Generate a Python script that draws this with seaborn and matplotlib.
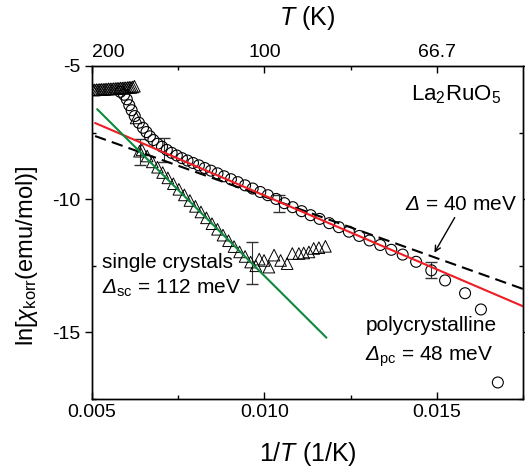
import numpy as np
import pandas as pd
import matplotlib
matplotlib.use("Agg")
import matplotlib.pyplot as plt
import seaborn as sns

sns.set_style("ticks")
plt.rcParams['font.family'] = ['Liberation Sans', 'DejaVu Sans']
plt.rcParams['mathtext.fontset'] = 'custom'
plt.rcParams['mathtext.rm'] = 'Liberation Sans'
plt.rcParams['mathtext.it'] = 'Liberation Sans:italic'
plt.rcParams['mathtext.sf'] = 'Liberation Sans:italic'  # used for the italic Delta
plt.rcParams['axes.unicode_minus'] = False
plt.rcParams['text.color'] = 'black'
plt.rcParams['axes.labelcolor'] = 'black'
plt.rcParams['xtick.color'] = 'black'
plt.rcParams['ytick.color'] = 'black'

# polycrystalline sample (circles)
poly_x = [0.00582, 0.00593, 0.00601, 0.00608, 0.00615, 0.00624, 0.00636, 0.00648,
          0.00658, 0.00668, 0.00678, 0.00690, 0.00703, 0.00717, 0.00731, 0.00746,
          0.00761, 0.00777, 0.00793, 0.00810, 0.00827, 0.00845, 0.00864, 0.00883,
          0.00903, 0.00923, 0.00944, 0.00966, 0.00988, 0.01010, 0.01034, 0.01058,
          0.01082, 0.01108, 0.01134, 0.01160, 0.01188, 0.01216, 0.01245, 0.01275,
          0.01305, 0.01336, 0.01368, 0.01401, 0.01440, 0.01484, 0.01524, 0.01582,
          0.01628, 0.01677]
poly_y = [-5.97, -6.08, -6.25, -6.47, -6.66, -6.88, -7.13, -7.32,
          -7.48, -7.64, -7.78, -7.92, -8.03, -8.15, -8.26, -8.36,
          -8.46, -8.55, -8.64, -8.73, -8.83, -8.93, -9.03, -9.14,
          -9.25, -9.36, -9.48, -9.60, -9.73, -9.85, -9.99, -10.15,
          -10.30, -10.45, -10.60, -10.74, -10.90, -11.05, -11.22, -11.38,
          -11.55, -11.72, -11.90, -12.08, -12.35, -12.67, -13.05, -13.53,
          -14.14, -16.88]

# single crystals (triangles)
sc_x = [0.00503, 0.00508, 0.00513, 0.00518, 0.00523, 0.00528, 0.00533, 0.00538,
        0.00543, 0.00548, 0.00553, 0.00558, 0.00563, 0.00568, 0.00573, 0.00578,
        0.00583, 0.00588, 0.00593, 0.00598, 0.00603, 0.00608, 0.00613, 0.00618,
        0.00623, 0.00628, 0.00638,
        0.00645, 0.00660, 0.00675, 0.00690, 0.00705, 0.00720, 0.00736, 0.00752,
        0.00768, 0.00784, 0.00800, 0.00816, 0.00832, 0.00848, 0.00864, 0.00880,
        0.00896, 0.00912, 0.00928, 0.00944, 0.00960, 0.00975, 0.00985, 0.00999,
        0.01013, 0.01028, 0.01047, 0.01066, 0.01081, 0.01100, 0.01114, 0.01129,
        0.01143, 0.01158, 0.01177]
sc_y = [-5.90, -5.90, -5.89, -5.89, -5.88, -5.88, -5.88, -5.87,
        -5.87, -5.86, -5.86, -5.86, -5.85, -5.85, -5.84, -5.84,
        -5.83, -5.83, -5.82, -5.82, -5.81, -5.80, -5.80, -5.79,
        -5.76, -6.95, -8.20,
        -8.15, -8.38, -8.60, -8.80, -9.00, -9.20, -9.42, -9.63,
        -9.84, -10.05, -10.27, -10.48, -10.70, -10.92, -11.13, -11.35,
        -11.56, -11.78, -11.98, -12.15, -12.36, -12.50, -12.25, -12.30,
        -12.55, -12.10, -12.30, -12.42, -12.04, -12.04, -12.02, -11.98,
        -11.85, -11.82, -11.77]

# error bars
poly_err_x = [0.00710, 0.01042, 0.01484]
poly_err_y = [-8.15, -10.15, -12.67]
poly_err = [0.45, 0.32, 0.30]
sc_err_x = [0.00638, 0.00965]
sc_err_y = [-8.23, -12.40]
sc_err = [0.49, 0.80]

# activation fits (end points)
pc_fit_x = [0.00509, 0.0175]
pc_fit_y = [-7.14, -14.02]
sc_fit_x = [0.00515, 0.0118]
sc_fit_y = [-6.62, -15.20]
d40_fit_x = [0.00509, 0.0175]
d40_fit_y = [-7.63, -13.37]

top_ticks = [0.005, 0.010, 0.015]
top_labels = ['200', '100', '66.7']

poly = pd.DataFrame({'x': poly_x, 'y': poly_y})
sc = pd.DataFrame({'x': sc_x, 'y': sc_y})

fig = plt.figure(figsize=(5.25, 4.7), dpi=100)
ax = fig.add_axes([0.1752, 0.1511, 0.8210, 0.7085])

sns.scatterplot(data=sc, x='x', y='y', marker='^', s=70, facecolor='none',
                edgecolor='black', linewidth=0.7, ax=ax, zorder=3)
sns.scatterplot(data=poly, x='x', y='y', marker='o', s=62, facecolor='none',
                edgecolor='black', linewidth=0.8, ax=ax, zorder=3)
ax.errorbar(poly_err_x, poly_err_y, yerr=poly_err, fmt='none', ecolor='#333333',
            elinewidth=0.8, capsize=4, zorder=2)
ax.errorbar(sc_err_x, sc_err_y, yerr=sc_err, fmt='none', ecolor='#333333',
            elinewidth=0.8, capsize=4, zorder=2)

sns.lineplot(x=d40_fit_x, y=d40_fit_y, color='black', linewidth=1.5,
             linestyle=(0, (5.5, 3)), ax=ax, zorder=4)
sns.lineplot(x=pc_fit_x, y=pc_fit_y, color='#ee1c24', linewidth=1.5, ax=ax, zorder=5)
sns.lineplot(x=sc_fit_x, y=sc_fit_y, color='#0b8a3e', linewidth=1.5, ax=ax, zorder=5)

ax.set_xlim(0.005, 0.0175)
ax.set_ylim(-17.5, -5)
ax.set_xticks([0.005, 0.010, 0.015])
ax.set_xticklabels(['0.005', '0.010', '0.015'])
ax.set_xticks([0.0075, 0.0125, 0.0175], minor=True)
ax.set_yticks([-5, -10, -15])
ax.set_yticks([-7.5, -12.5, -17.5], minor=True)
ax.tick_params(axis='both', which='major', direction='out', length=5, width=1,
               labelsize=14)
ax.tick_params(axis='both', which='minor', direction='out', length=3, width=1)
ax.tick_params(right=True, which='both', direction='in')
ax.tick_params(axis='y', which='major', direction='out', left=True, right=True)
for sp in ax.spines.values():
    sp.set_linewidth(1)
    sp.set_color('black')

ax.set_xlabel('1/$T$ (1/K)', fontsize=18, labelpad=14)
ax.set_ylabel(r'ln[$\chi_{\mathrm{korr}}$(emu/mol)]', fontsize=17)
ax.yaxis.set_label_coords(-0.12, 0.43)

top = ax.twiny()
top.set_xlim(ax.get_xlim())
top.set_xticks(top_ticks)
top.set_xticklabels(top_labels)
top.set_xticks([0.0075, 0.0125], minor=True)
top.tick_params(axis='x', which='major', direction='in', length=5, width=1, labelsize=14)
top.tick_params(axis='x', which='minor', direction='in', length=3, width=1)
top.get_xticklabels()[0].set_horizontalalignment('left')
top.set_xlabel('$T$ (K)', fontsize=18, labelpad=14)
for sp in top.spines.values():
    sp.set_linewidth(1)
    sp.set_color('black')

ax.text(0.01426, -6.28, r'La$_2$RuO$_5$', fontsize=16)
ax.text(0.00529, -12.6, 'single crystals', fontsize=15)
ax.text(0.00529, -13.53, r'$\mathsf{\Delta}_{\mathrm{sc}}$ = 112 meV', fontsize=15)
ax.text(0.01293, -14.96, 'polycrystalline', fontsize=15)
ax.text(0.01293, -16.05, r'$\mathsf{\Delta}_{\mathrm{pc}}$ = 48 meV', fontsize=15)
ax.text(0.01409, -10.41, r'$\mathsf{\Delta}$ = 40 meV', fontsize=15)
ax.annotate('', xy=(0.01489, -12.1), xytext=(0.01556, -10.6),
            arrowprops=dict(arrowstyle='->', color='black', lw=1))

fig.savefig('out.png', dpi=100)
